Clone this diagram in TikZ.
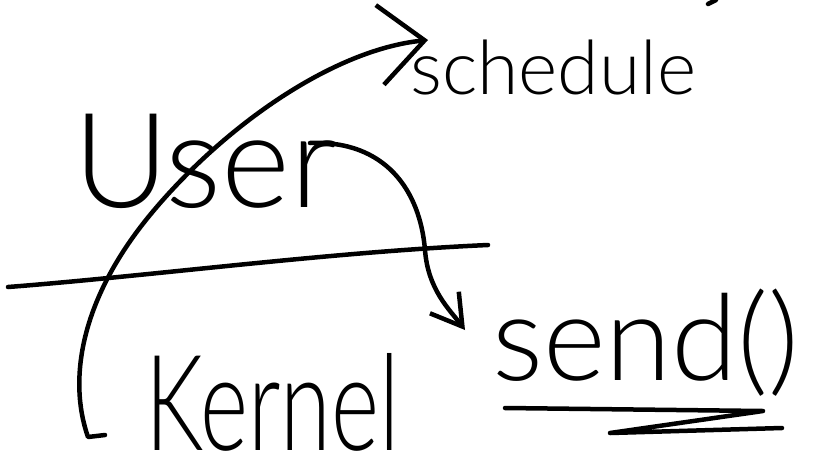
\documentclass[tikz,border=0pt]{standalone}
\usepackage{fontspec}
\newfontfamily\hand{Lato Light}
\usetikzlibrary{arrows.meta}
\tikzset{
  pen/.style={line width=4.5pt,line cap=round,line join=round},
  word/.style={inner sep=0pt,anchor=base west},
}
\begin{document}
\begin{tikzpicture}[x=1pt,y=-1pt]
\useasboundingbox (0,0) rectangle (820,475);
% the four words
\node[word,font=\hand\fontsize{132}{132}\selectfont] (user) at (73,207) {User};
\node[word,font=\hand\fontsize{92}{92}\selectfont] (kernel) at (145,450) {\scalebox{1}[1.45]{Kernel}};
\node[word,font=\hand\fontsize{75}{75}\selectfont] (sched) at (410,94) {schedule};
\node[word,font=\hand\fontsize{120}{120}\selectfont] (send) at (492,380) {send()};
\coordinate (hook) at (105,435);
\coordinate (from) at (310,143);
% user / kernel boundary
\draw[pen] (8,287) .. controls (150,276) and (330,252) .. (488,245);
% kernel -> schedule
\draw[pen,-{Straight Barb[length=45pt,width=80pt]}] (hook) -- (88,437)
  .. controls (68,380) and (80,300) .. (150,215)
  .. controls (220,130) and (330,50) .. ([xshift=18pt,yshift=54pt]sched.base west);
% user -> send()
\draw[pen,-{Straight Barb[length=30pt,width=36pt]}] (from)
  .. controls (385,140) and (420,190) .. (425,250)
  .. controls (428,290) and (450,310) .. ([xshift=-27pt,yshift=50pt]send.base west);
\draw[pen] (505,408) -- (763,411) -- (610,433) -- (782,428);
\draw[pen] (708,4) -- (716,0);
\end{tikzpicture}
\end{document}
